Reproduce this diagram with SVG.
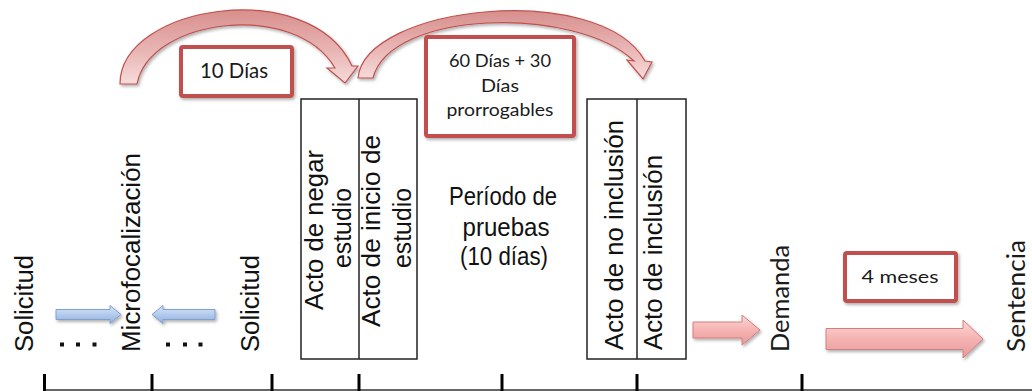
<svg xmlns="http://www.w3.org/2000/svg" width="1032" height="391" viewBox="0 0 1032 391">
<defs>
<style>
.ar{font-family:"Liberation Sans",Arial,sans-serif;fill:#111}
.cb{font-family:Lato,"Open Sans",sans-serif;fill:#1a1a1a}
.box{fill:#fff;stroke:#222;stroke-width:1.5}
.tbox{fill:#fff;stroke:#c0504d;stroke-width:4}
.tick{stroke:#000;stroke-width:3}
.pink{fill:url(#gPink);stroke:#d0807e;stroke-width:1}
.blue{fill:url(#gBlue);stroke:#7f9fd0;stroke-width:1}
.arc{fill:url(#gArc);stroke:#c0504d;stroke-width:1.2}
</style>
<linearGradient id="gPink" x1="0" y1="0" x2="0" y2="1">
<stop offset="0" stop-color="#fbd8d7"/><stop offset="0.5" stop-color="#f5b3b2"/><stop offset="1" stop-color="#e79b99"/>
</linearGradient>
<linearGradient id="gBlue" x1="0" y1="0" x2="0" y2="1">
<stop offset="0" stop-color="#dbe6f6"/><stop offset="0.5" stop-color="#b3cbec"/><stop offset="1" stop-color="#8fb0de"/>
</linearGradient>
<linearGradient id="gArc" x1="0" y1="0" x2="0" y2="1">
<stop offset="0" stop-color="#d78f8d"/><stop offset="0.6" stop-color="#eab9b8"/><stop offset="1" stop-color="#f6dcdb"/>
</linearGradient>
<filter id="sh" x="-10%" y="-20%" width="130%" height="150%">
<feDropShadow dx="1.5" dy="2" stdDeviation="1.5" flood-color="#000" flood-opacity="0.3"/>
</filter>
</defs>
<rect width="1032" height="391" fill="#fff"/>

<g id="connectors">
<path id="arc1" class="arc" filter="url(#sh)" d="M120,84 C120,5 310,-25 352,66 L358,66 L345,83 L327,68 L335,68 C295,0 150,18 137,84 Z"/>
<path id="arc2" class="arc" filter="url(#sh)" d="M358,78 C365,5 600,-20 645,61 L652,62 L643,79 L627,60 L634,61 C575,5 390,10 373,78 Z"/>
<path id="blue1" class="blue" filter="url(#sh)" d="M56,309.5 L110,309.5 L110,305.5 L121,314.5 L110,323.5 L110,319.5 L56,319.5 Z"/>
<path id="blue2" class="blue" filter="url(#sh)" d="M215,309.5 L163,309.5 L163,305.5 L152,314.5 L163,323.5 L163,319.5 L215,319.5 Z"/>
<path id="pink1" class="pink" filter="url(#sh)" d="M693,322 L742,322 L742,315 L760,330 L742,345 L742,338 L693,338 Z"/>
<path id="pink2" class="pink" filter="url(#sh)" d="M826,328.5 L963,328.5 L963,320 L983,339 L963,358 L963,349.5 L826,349.5 Z"/>
</g>

<g id="axis">
<line x1="43" y1="390" x2="1032" y2="390" stroke="#333" stroke-width="1.5"/>
<line class="tick" x1="44.5" y1="374" x2="44.5" y2="391"/>
<line class="tick" x1="152" y1="374" x2="152" y2="391"/>
<line class="tick" x1="272" y1="374" x2="272" y2="391"/>
<line class="tick" x1="359" y1="374" x2="359" y2="391"/>
<line class="tick" x1="502" y1="374" x2="502" y2="391"/>
<line class="tick" x1="637" y1="374" x2="637" y2="391"/>
<line class="tick" x1="802" y1="374" x2="802" y2="391"/>
</g>

<g id="dots" fill="#111">
<rect x="60" y="342.5" width="4" height="4"/>
<rect x="76" y="342.5" width="4" height="4"/>
<rect x="92.5" y="342.5" width="4" height="4"/>
<rect x="166" y="342.5" width="4" height="4"/>
<rect x="183" y="342.5" width="4" height="4"/>
<rect x="198.5" y="342.5" width="4" height="4"/>
</g>

<g id="n-solicitud1"><text class="ar" font-size="26" transform="translate(33,352) rotate(-90)" textLength="97" lengthAdjust="spacingAndGlyphs">Solicitud</text></g>
<g id="n-microfocalizacion"><text class="ar" font-size="26" transform="translate(140,352) rotate(-90)" textLength="199" lengthAdjust="spacingAndGlyphs">Microfocalización</text></g>
<g id="n-solicitud2"><text class="ar" font-size="26" transform="translate(259,352) rotate(-90)" textLength="97" lengthAdjust="spacingAndGlyphs">Solicitud</text></g>

<g id="n-actos1">
<rect class="box" x="301" y="99" width="116" height="260"/>
<line x1="359" y1="99" x2="359" y2="359" stroke="#222" stroke-width="1.5"/>
<text class="ar" font-size="25" transform="translate(323,310) rotate(-90)" textLength="160" lengthAdjust="spacingAndGlyphs">Acto de negar</text>
<text class="ar" font-size="25" transform="translate(351,268) rotate(-90)" textLength="80" lengthAdjust="spacingAndGlyphs">estudio</text>
<text class="ar" font-size="25" transform="translate(380,327) rotate(-90)" textLength="192" lengthAdjust="spacingAndGlyphs">Acto de inicio de</text>
<text class="ar" font-size="25" transform="translate(411,268) rotate(-90)" textLength="80" lengthAdjust="spacingAndGlyphs">estudio</text>
</g>

<g id="n-periodo">
<text class="ar" font-size="26" x="503" y="205" text-anchor="middle" textLength="108" lengthAdjust="spacingAndGlyphs">Período de</text>
<text class="ar" font-size="26" x="506" y="236" text-anchor="middle" textLength="87" lengthAdjust="spacingAndGlyphs">pruebas</text>
<text class="ar" font-size="26" x="504" y="265" text-anchor="middle" textLength="88" lengthAdjust="spacingAndGlyphs">(10 días)</text>
</g>

<g id="n-actos2">
<rect class="box" x="587" y="99" width="99" height="260"/>
<line x1="637" y1="99" x2="637" y2="359" stroke="#222" stroke-width="1.5"/>
<text class="ar" font-size="26" transform="translate(623,350) rotate(-90)" textLength="230" lengthAdjust="spacingAndGlyphs">Acto de no inclusión</text>
<text class="ar" font-size="26" transform="translate(662,350) rotate(-90)" textLength="195" lengthAdjust="spacingAndGlyphs">Acto de inclusión</text>
</g>

<g id="n-demanda"><text class="cb" font-size="25" transform="translate(789,352) rotate(-90)" textLength="107" lengthAdjust="spacingAndGlyphs">Demanda</text></g>
<g id="n-sentencia"><text class="cb" font-size="25" transform="translate(1025,352) rotate(-90)" textLength="112" lengthAdjust="spacingAndGlyphs">Sentencia</text></g>

<g id="n-10dias">
<rect class="tbox" filter="url(#sh)" x="181" y="47" width="111" height="49" rx="2"/>
<text class="cb" font-size="21" x="234" y="78" text-anchor="middle" textLength="68" lengthAdjust="spacingAndGlyphs">10 Días</text>
</g>

<g id="n-60dias">
<rect class="tbox" filter="url(#sh)" x="426" y="37" width="148" height="99" rx="2"/>
<text class="cb" font-size="18" x="500" y="67" text-anchor="middle" textLength="102" lengthAdjust="spacingAndGlyphs">60 Días + 30</text>
<text class="cb" font-size="18" x="500" y="92" text-anchor="middle" textLength="38" lengthAdjust="spacingAndGlyphs">Días</text>
<text class="cb" font-size="18" x="500" y="116" text-anchor="middle" textLength="107" lengthAdjust="spacingAndGlyphs">prorrogables</text>
</g>

<g id="n-4meses">
<rect class="tbox" filter="url(#sh)" x="845" y="253" width="111" height="48" rx="2"/>
<text class="cb" font-size="18" x="900" y="283" text-anchor="middle" textLength="77" lengthAdjust="spacingAndGlyphs">4 meses</text>
</g>
</svg>
